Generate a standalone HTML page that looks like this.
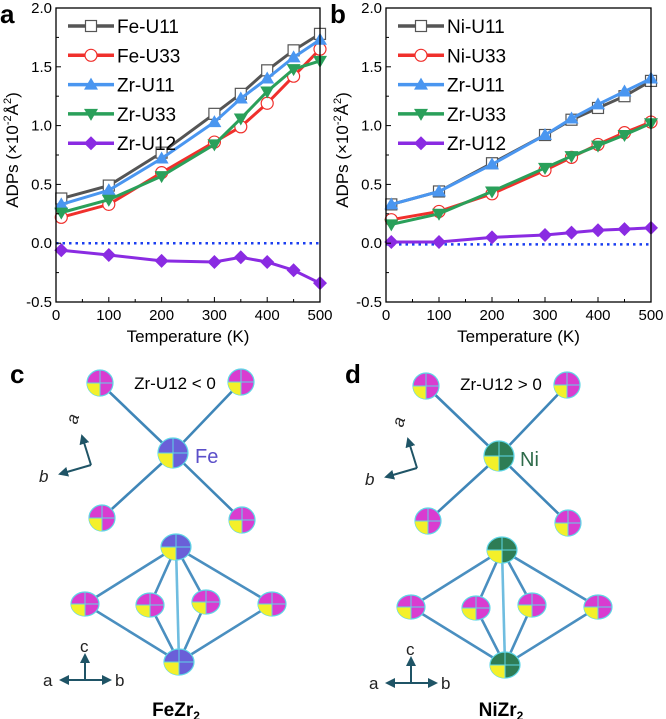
<!DOCTYPE html>
<html><head><meta charset="utf-8"><style>
body{margin:0;background:#fff;width:666px;height:719px;overflow:hidden;font-family:"Liberation Sans",sans-serif}
svg{position:absolute;left:0;top:0}
text{font-family:"Liberation Sans",sans-serif}
</style></head><body>
<svg id="fig" width="666" height="719" viewBox="0 0 666 719" xmlns="http://www.w3.org/2000/svg">
<defs>
<marker id="ah" viewBox="0 0 10 10" refX="8" refY="5" markerWidth="5" markerHeight="5" orient="auto"><path d="M0,0L10,5L0,10z" fill="#1f5466"/></marker>
</defs>
<g id="chartA"></g>
<g id="chartB"></g>
<g id="structC"></g>
<g id="structD" transform="translate(326,3)"></g>
<text x="10" y="383" font-size="26" font-weight="bold">c</text>
<text x="175" y="389" font-size="17" text-anchor="middle">Zr-U12 &lt; 0</text>
<text x="195" y="463" font-size="20" fill="#5b4fc9">Fe</text>
<text x="176" y="716" font-size="19" font-weight="bold" text-anchor="middle">FeZr<tspan font-size="12" dy="4">2</tspan></text>
<text x="345" y="383" font-size="26" font-weight="bold">d</text>
<text x="501" y="390" font-size="17" text-anchor="middle">Zr-U12 &gt; 0</text>
<text x="520" y="466" font-size="20" fill="#2e6b4a">Ni</text>
<text x="501" y="716" font-size="19" font-weight="bold" text-anchor="middle">NiZr<tspan font-size="12" dy="4">2</tspan></text>
</svg>
<script>
const NS="http://www.w3.org/2000/svg";
const temps=[10,100,200,300,350,400,450,500];
const yTicks=[-0.5,0.0,0.5,1.0,1.5,2.0];
const xTicks=[0,100,200,300,400,500];
const aNames=["Fe-U11","Fe-U33","Zr-U11","Zr-U33","Zr-U12"];
const bNames=["Ni-U11","Ni-U33","Zr-U11","Zr-U33","Zr-U12"];
const aU11=[0.38,0.49,0.77,1.10,1.27,1.47,1.64,1.78];
const aU33=[0.22,0.33,0.60,0.86,0.99,1.19,1.42,1.65];
const aZrU11=[0.33,0.45,0.72,1.03,1.23,1.40,1.58,1.73];
const aZrU33=[0.26,0.37,0.57,0.84,1.06,1.29,1.48,1.55];
const aZrU12=[-0.06,-0.10,-0.15,-0.16,-0.12,-0.16,-0.23,-0.34];
const bU11=[0.33,0.44,0.68,0.92,1.05,1.15,1.25,1.38];
const bU33=[0.20,0.27,0.42,0.62,0.73,0.84,0.94,1.03];
const bZrU11=[0.33,0.44,0.67,0.92,1.06,1.18,1.29,1.40];
const bZrU33=[0.16,0.25,0.44,0.64,0.74,0.83,0.92,1.02];
const bZrU12=[0.01,0.01,0.05,0.07,0.09,0.11,0.12,0.13];
const zeroLineA=0.0, zeroLineB=-0.01;
const colors=["#555555","#f0302c","#4a96f0","#2aa05a","#8a2be2"];
const markers=["square","circle","up","down","diamond"];
function el(t,a,p){const e=document.createElementNS(NS,t);for(const k in a)e.setAttribute(k,a[k]);p.appendChild(e);return e;}
function marker(g,type,x,y,c){
  let m;
  if(type==="square")m=el("rect",{x:x-5.5,y:y-5.5,width:11,height:11,fill:"#fff",stroke:"#555",'stroke-width':1.2},g);
  else if(type==="circle")m=el("circle",{cx:x,cy:y,r:6,fill:"#fff",stroke:c,'stroke-width':1.2},g);
  else if(type==="up")m=el("path",{d:`M${x},${y-7}L${x+7},${y+5}L${x-7},${y+5}Z`,fill:c},g);
  else if(type==="down")m=el("path",{d:`M${x},${y+7}L${x+7},${y-5}L${x-7},${y-5}Z`,fill:c},g);
  else m=el("path",{d:`M${x},${y-7}L${x+7},${y}L${x},${y+7}L${x-7},${y}Z`,fill:c},g);
  
  
}
function chart(g,x0,x1,label,names,series,zero){
  const yT=8,yB=302;
  const X=v=>x0+(v-0)/(500-0)*(x1-x0);
  const Y=v=>yB-(v+0.5)/2.5*(yB-yT);
  const z=el("line",{x1:x0,x2:x1,y1:Y(zero),y2:Y(zero),stroke:"#1a3ef0",'stroke-width':2.5,'stroke-dasharray':"2.5 4"},g);
  
  
  series.forEach((s,i)=>{
    const p=el("polyline",{points:s.map((v,j)=>X(temps[j])+","+Y(v)).join(" "),fill:"none",stroke:colors[i],'stroke-width':3},g);
    
    
    s.forEach((v,j)=>marker(g,markers[i],X(temps[j]),Y(v),colors[i]));
  });
  const f=el("rect",{x:x0,y:yT,width:x1-x0,height:yB-yT,fill:"none",stroke:"#000",'stroke-width':1.3},g);
  
  
  xTicks.forEach(v=>{
    el("line",{x1:X(v),x2:X(v),y1:yB,y2:yB-5,stroke:"#000"},g);
    if(v<500)el("line",{x1:X(v+50),x2:X(v+50),y1:yB,y2:yB-3,stroke:"#000"},g);
    const t=el("text",{x:X(v),y:yB+18,'font-size':15,'text-anchor':'middle'},g);t.textContent=v;
    
    
  });
  yTicks.forEach(v=>{
    el("line",{x1:x0,x2:x0+5,y1:Y(v),y2:Y(v),stroke:"#000"},g);
    if(v<2)el("line",{x1:x0,x2:x0+3,y1:Y(v+0.25),y2:Y(v+0.25),stroke:"#000"},g);
    const t=el("text",{x:x0-4,y:Y(v)+5,'font-size':15,'text-anchor':'end'},g);t.textContent=v.toFixed(1);
    
    
  });
  const xt=el("text",{x:(x0+x1)/2,y:342,'font-size':17,'text-anchor':'middle'},g);xt.textContent="Temperature (K)";
  
  
  const yt=el("text",{x:0,y:0,'font-size':17,'text-anchor':'middle',transform:`translate(${x0-38},150) rotate(-90)`},g);
  yt.innerHTML='ADPs (×10<tspan font-size="11" dy="-7">-2</tspan><tspan dy="7">Å</tspan><tspan font-size="11" dy="-7">2</tspan><tspan dy="7">)</tspan>';
  
  
  const pl=el("text",{x:x0-56,y:23,'font-size':26,'font-weight':'bold'},g);pl.textContent=label;
  
  
  names.forEach((n,i)=>{
    const ly=26+i*29.3, lx=x0+12;
    const lg=el("g",{},g);
    
    
    el("line",{x1:lx,x2:lx+46,y1:ly,y2:ly,stroke:colors[i],'stroke-width':3.5},lg);
    marker(lg,markers[i],lx+23,ly,colors[i]);
    const t=el("text",{x:lx+49,y:ly+7,'font-size':19},lg);t.textContent=n;
  });
}
chart(document.getElementById("chartA"),56,320,"a",aNames,[aU11,aU33,aZrU11,aZrU33,aZrU12],zeroLineA);
chart(document.getElementById("chartB"),386,651,"b",bNames,[bU11,bU33,bZrU11,bZrU33,bZrU12],zeroLineB);

function atom(g,x,y,r,main,rx){
  const a=el("g",{},g);
  
  
  rx=rx||r;
  el("ellipse",{cx:x,cy:y,rx:rx,ry:r,fill:main,stroke:"#5fd6e6",'stroke-width':1.2},a);
  el("path",{d:`M${x},${y}L${x},${y+r}A${rx},${r} 0 0 1 ${x-rx},${y}Z`,fill:"#f4f02a"},a);
  el("line",{x1:x-rx,x2:x+rx,y1:y,y2:y,stroke:"#5fd6e6",'stroke-width':1},a);
  el("line",{x1:x,x2:x,y1:y-r,y2:y+r,stroke:"#5fd6e6",'stroke-width':1},a);
}
function bond(g,a,b,c){el("line",{x1:a[0],y1:a[1],x2:b[0],y2:b[1],stroke:c||"#4a8fc0",'stroke-width':2.6},g);}
function structure(g,center){
  const zr="#d93cd0";
  const tops=[[100,383],[241,382],[102,518],[242,520]];
  const mid=[173,453];
  tops.forEach(p=>bond(g,p,mid,"#3f86b8"));
  const apex=[176,547],bot=[179,662];
  const side=[[85,604],[150,605],[206,602],[272,604]];
  side.forEach(p=>{bond(g,p,apex);bond(g,p,bot);});
  bond(g,apex,bot,"#6fbde0");
  tops.forEach(p=>atom(g,p[0],p[1],13,zr));
  atom(g,mid[0],mid[1],15,center);
  atom(g,apex[0],apex[1],13,center,15);
  side.forEach(p=>atom(g,p[0],p[1],12,zr,14));
  atom(g,bot[0],bot[1],13,center,15);
  const ax=el("g",{stroke:"#1f5466",'stroke-width':2,fill:"none"},g);
  
  
  el("line",{x1:91,y1:465,x2:82,y2:436,'marker-end':"url(#ah)"},ax);
  el("line",{x1:91,y1:465,x2:60,y2:474,'marker-end':"url(#ah)"},ax);
  el("line",{x1:85,y1:680,x2:85,y2:655,'marker-end':"url(#ah)"},ax);
  el("line",{x1:85,y1:680,x2:61,y2:680,'marker-end':"url(#ah)"},ax);
  el("line",{x1:85,y1:680,x2:110,y2:680,'marker-end':"url(#ah)"},ax);
  const lbl=[["a",70,424,"rotate(-75 74 420)"],["b",39,482,""],["c",80,652,""],["a",43,686,""],["b",115,686,""]];
  lbl.forEach((l,i)=>{const t=el("text",{x:l[1],y:l[2],'font-size':17,fill:"#222",'font-style':i<2?'italic':'normal'},g);if(l[3])t.setAttribute("transform",l[3]);t.textContent=l[0];});
}
structure(document.getElementById("structC"),"#6a5fd8");
structure(document.getElementById("structD"),"#2e7d55");
</script>
</body></html>
